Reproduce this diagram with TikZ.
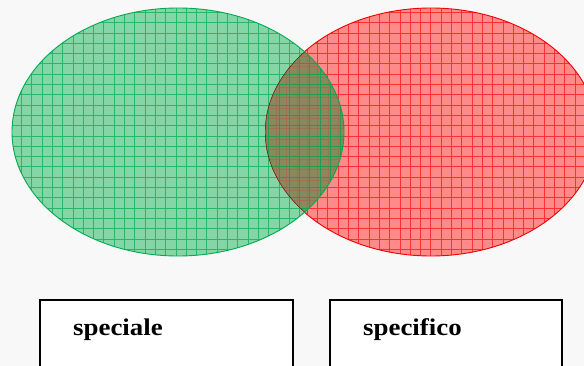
\documentclass[tikz,border=0pt]{standalone}
\usepackage{fontspec}
\setmainfont{Liberation Serif}
\definecolor{bgpaper}{RGB}{248,248,248}
\definecolor{greenfill}{RGB}{132,214,166}
\definecolor{greenline}{RGB}{40,182,104}
\definecolor{greenedge}{RGB}{0,170,80}
\definecolor{redfill}{RGB}{255,138,138}
\definecolor{redline}{RGB}{255,48,48}
\definecolor{rededge}{RGB}{240,0,0}
\definecolor{lensfill}{RGB}{136,138,92}
\definecolor{lensline}{RGB}{160,112,80}
\tikzset{
  gridline/.style={line width=0.75pt},
  labelbox/.style={draw=black, line width=1.6pt, fill=white},
  labeltext/.style={anchor=base west, inner sep=0pt, font=\bfseries\fontsize{24}{28}\selectfont}
}
\begin{document}
\begin{tikzpicture}[x=1pt,y=-1pt]
  \fill[bgpaper] (0,0) rectangle (584,366);
  \useasboundingbox (0,0) rectangle (584,366);

  % red set
  \fill[redfill] (431,132) ellipse [x radius=166, y radius=124];
  \begin{scope}
    \clip (431,132) ellipse [x radius=166, y radius=124];
    \foreach \i in {0,...,34} {
      \draw[redline, gridline] (266+10.3*\i,0) -- ++(0,270);
    }
    \foreach \j in {0,...,26} {
      \draw[redline, gridline] (260,2+10.3*\j) -- ++(340,0);
    }
  \end{scope}
  \draw[rededge, line width=0.9pt] (431,132) ellipse [x radius=166, y radius=124];

  % green set
  \fill[greenfill] (178,132) ellipse [x radius=166, y radius=124];
  \begin{scope}
    \clip (178,132) ellipse [x radius=166, y radius=124];
    \foreach \i in {0,...,34} {
      \draw[greenline, gridline] (0.8+10.3*\i,0) -- ++(0,270);
    }
    \foreach \j in {0,...,26} {
      \draw[greenline, gridline] (0,2+10.3*\j) -- ++(360,0);
    }
  \end{scope}

  % intersection
  \begin{scope}
    \clip (178,132) ellipse [x radius=166, y radius=124];
    \clip (431,132) ellipse [x radius=166, y radius=124];
    \fill[lensfill] (260,0) rectangle (350,270);
    \foreach \i in {0,...,10} {
      \draw[lensline, line width=0.6pt] (266+10.3*\i,0) -- ++(0,270);
    }
    \foreach \j in {0,...,26} {
      \draw[lensline, line width=0.6pt] (260,5+10.3*\j) -- ++(100,0);
    }
    \foreach \i in {25,...,34} {
      \draw[greenline!85!black, gridline] (0.8+10.3*\i,0) -- ++(0,270);
    }
    \foreach \j in {0,...,26} {
      \draw[greenline!85!black, gridline] (250,2+10.3*\j) -- ++(110,0);
    }
    \draw[rededge!50!black, line width=0.9pt] (431,132) ellipse [x radius=166, y radius=124];
  \end{scope}
  \draw[greenedge, line width=0.9pt] (178,132) ellipse [x radius=166, y radius=124];

  % label boxes
  \draw[labelbox] (40,300) rectangle (293,380);
  \draw[labelbox] (330,300) rectangle (562,380);
  \node[labeltext] (speciale) at (73,335) {\scalebox{1.12}[1]{speciale}};
  \node[labeltext] (specifico) at (363,335) {\scalebox{1.12}[1]{specifico}};
\end{tikzpicture}
\end{document}
